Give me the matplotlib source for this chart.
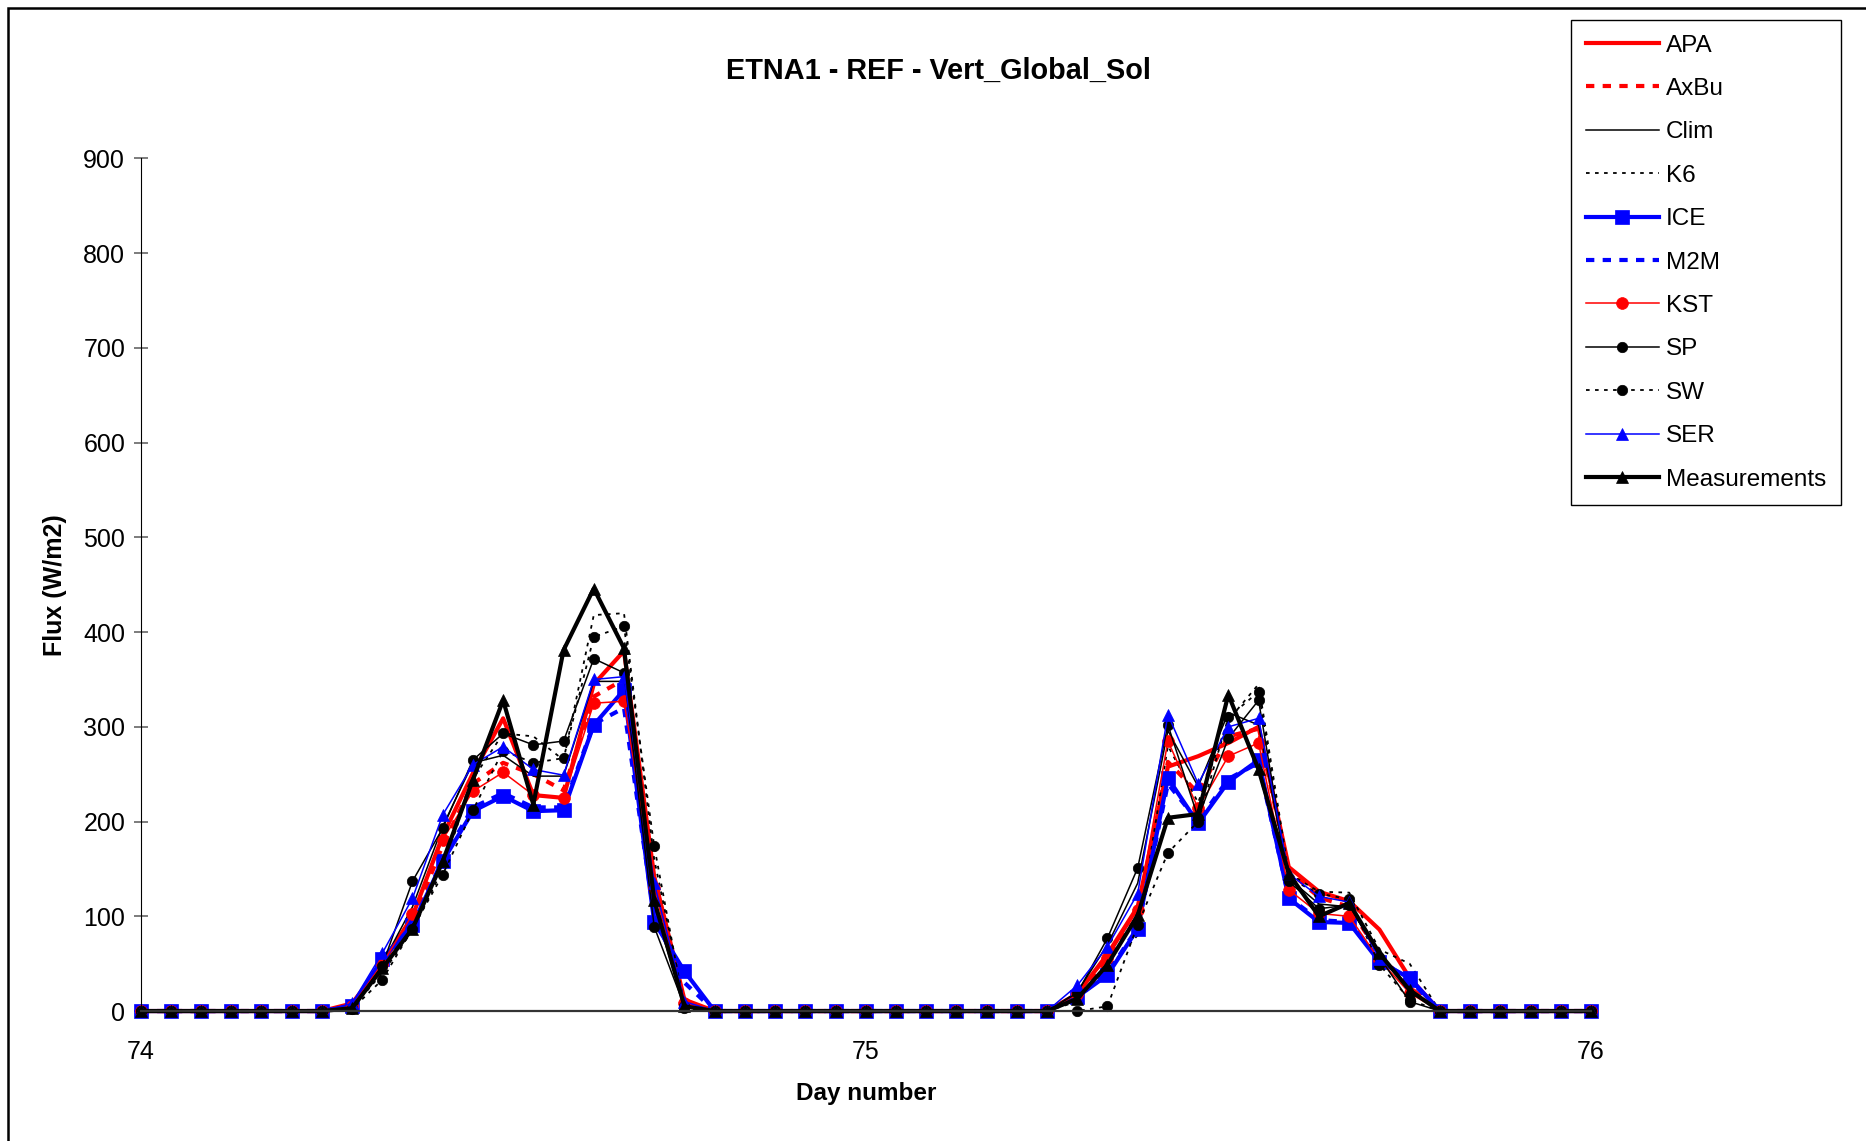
import matplotlib
matplotlib.use("Agg")
import matplotlib.pyplot as plt
import numpy as np
from matplotlib.patches import Rectangle

plt.rcParams["font.family"] = ["Liberation Sans", "DejaVu Sans"]

# ------------------------------------------------------------
# Data: hourly values, day 74 -> 76 (49 points)
# ------------------------------------------------------------
hours = np.arange(49)
day = 74 + hours / 24.0

APA = [0, 0, 0, 0, 0, 0, 0,
       8, 50, 100, 185, 251, 309, 228, 225, 345, 380, 142, 12,
       0, 0, 0, 0, 0, 0, 0, 0, 0, 0, 0, 0,
       18, 60, 110, 258, 269, 283, 300, 152, 126, 116, 86, 35,
       0, 0, 0, 0, 0, 0]
AxBu = [0, 0, 0, 0, 0, 0, 0,
        6, 45, 95, 175, 240, 262, 250, 233, 332, 350, 140, 8,
        0, 0, 0, 0, 0, 0, 0, 0, 0, 0, 0, 0,
        16, 55, 100, 263, 230, 290, 298, 148, 120, 110, 60, 25,
        0, 0, 0, 0, 0, 0]
Clim = [0, 0, 0, 0, 0, 0, 0,
        5, 50, 110, 195, 262, 270, 248, 248, 348, 348, 110, 5,
        0, 0, 0, 0, 0, 0, 0, 0, 0, 0, 0, 0,
        20, 70, 135, 296, 237, 315, 302, 140, 113, 110, 61, 23,
        0, 0, 0, 0, 0, 0]
K6 = [0, 0, 0, 0, 0, 0, 0,
      3, 40, 85, 150, 245, 293, 290, 265, 418, 420, 160, 8,
      0, 0, 0, 0, 0, 0, 0, 0, 0, 0, 0, 0,
      10, 45, 80, 280, 220, 307, 345, 145, 126, 125, 65, 50,
      0, 0, 0, 0, 0, 0]
ICE = [0, 0, 0, 0, 0, 0, 0,
       5, 55, 91, 158, 211, 227, 211, 212, 302, 339, 94, 42,
       0, 0, 0, 0, 0, 0, 0, 0, 0, 0, 0, 0,
       15, 38, 87, 246, 198, 242, 265, 119, 94, 93, 52, 35,
       0, 0, 0, 0, 0, 0]
M2M = [0, 0, 0, 0, 0, 0, 0,
       5, 52, 90, 160, 215, 230, 215, 215, 303, 320, 100, 30,
       0, 0, 0, 0, 0, 0, 0, 0, 0, 0, 0, 0,
       15, 40, 88, 240, 200, 245, 262, 120, 96, 94, 54, 33,
       0, 0, 0, 0, 0, 0]
KST = [0, 0, 0, 0, 0, 0, 0,
       5, 50, 102, 181, 232, 252, 228, 225, 325, 327, 130, 8,
       0, 0, 0, 0, 0, 0, 0, 0, 0, 0, 0, 0,
       18, 56, 107, 285, 214, 269, 283, 128, 103, 100, 54, 19,
       0, 0, 0, 0, 0, 0]
SP = [0, 0, 0, 0, 0, 0, 0,
      3, 48, 137, 193, 265, 293, 281, 285, 372, 357, 89, 5,
      0, 0, 0, 0, 0, 0, 0, 0, 0, 0, 0, 0,
      19, 77, 151, 302, 204, 288, 328, 137, 108, 112, 57, 10,
      0, 0, 0, 0, 0, 0]
SW = [0, 0, 0, 0, 0, 0, 0,
      2, 33, 87, 144, 212, 275, 262, 267, 395, 406, 174, 3,
      0, 0, 0, 0, 0, 0, 0, 0, 0, 0, 0, 0,
      0, 5, 91, 167, 200, 310, 337, 140, 124, 118, 49, 12,
      0, 0, 0, 0, 0, 0]
SER = [0, 0, 0, 0, 0, 0, 0,
       8, 61, 119, 207, 260, 279, 255, 249, 350, 353, 135, 10,
       0, 0, 0, 0, 0, 0, 0, 0, 0, 0, 0, 0,
       27, 68, 124, 313, 240, 300, 309, 145, 121, 115, 55, 32,
       0, 0, 0, 0, 0, 0]
Measurements = [0, 0, 0, 0, 0, 0, 0,
                3, 45, 87, 158, 244, 328, 218, 381, 446, 383, 117, 5,
                0, 0, 0, 0, 0, 0, 0, 0, 0, 0, 0, 0,
                13, 49, 101, 204, 208, 334, 255, 145, 100, 114, 61, 22,
                0, 0, 0, 0, 0, 0]

X_TICKS = [74, 75, 76]
Y_TICKS = list(range(0, 901, 100))

# ------------------------------------------------------------
# Styles (label, values, color, linestyle, linewidth, marker, markersize)
# ------------------------------------------------------------
series = [
    ("APA", APA, "#ff0000", "-", 3.0, None, 0),
    ("AxBu", AxBu, "#ff0000", (0, (2, 2)), 3.0, None, 0),
    ("Clim", Clim, "black", "-", 1.1, None, 0),
    ("K6", K6, "black", (0, (2, 3)), 1.3, None, 0),
    ("ICE", ICE, "#0000ff", "-", 3.0, "s", 10),
    ("M2M", M2M, "#0000ff", (0, (2, 2)), 3.0, None, 0),
    ("KST", KST, "#ff0000", "-", 1.1, "o", 8.5),
    ("SP", SP, "black", "-", 1.1, "o", 7.5),
    ("SW", SW, "black", (0, (2, 3)), 1.3, "o", 7.5),
    ("SER", SER, "#0000ff", "-", 1.1, "^", 9),
    ("Measurements", Measurements, "black", "-", 3.0, "^", 9),
]

FS = 17.5

fig = plt.figure(figsize=(18.66, 11.41), dpi=100)
ax = fig.add_axes([0.0753, 0.1139, 0.7773, 0.7472])

for label, vals, color, ls, lw, marker, ms in series:
    ax.plot(day, vals, color=color, linestyle=ls, linewidth=lw,
            marker=marker, markersize=ms, markeredgewidth=0.5,
            label=label, clip_on=False)

ax.set_xlim(74, 76)
ax.set_ylim(0, 900)
ax.set_xticks(X_TICKS)
ax.set_xticklabels([str(t) for t in X_TICKS])
ax.set_yticks(Y_TICKS)

for side in ("top", "right"):
    ax.spines[side].set_visible(False)
ax.spines["left"].set_linewidth(0.8)
ax.spines["bottom"].set_linewidth(1.6)
ax.spines["bottom"].set_color("#333333")

ax.tick_params(axis="y", direction="inout", length=10, width=1.2,
               color="#666666", labelsize=18, pad=6)
ax.tick_params(axis="x", length=0, labelsize=18, pad=21)

ax.set_xlabel("Day number", fontsize=FS, fontweight="bold", labelpad=13)
ax.set_ylabel("Flux (W/m2)", fontsize=18, fontweight="bold", labelpad=12)

fig.text(0.503, 0.9375, "ETNA1 - REF - Vert_Global_Sol", ha="center", va="center",
         fontsize=20.8, fontweight="bold")

leg = fig.legend(loc="upper left", bbox_to_anchor=(0.842, 0.9825),
                 bbox_transform=fig.transFigure, fontsize=FS,
                 handlelength=3.0, handletextpad=0.3, labelspacing=0.88,
                 borderpad=0.6, borderaxespad=0, fancybox=False,
                 framealpha=1, edgecolor="black")
leg.get_frame().set_linewidth(1.0)

# outer chart border
fig.patches.append(Rectangle((8 / 1866, -0.2), 1.5, 1.2 - 8 / 1141,
                             transform=fig.transFigure, fill=False,
                             edgecolor="black", linewidth=1.8))

fig.savefig("out.png", dpi=100)
